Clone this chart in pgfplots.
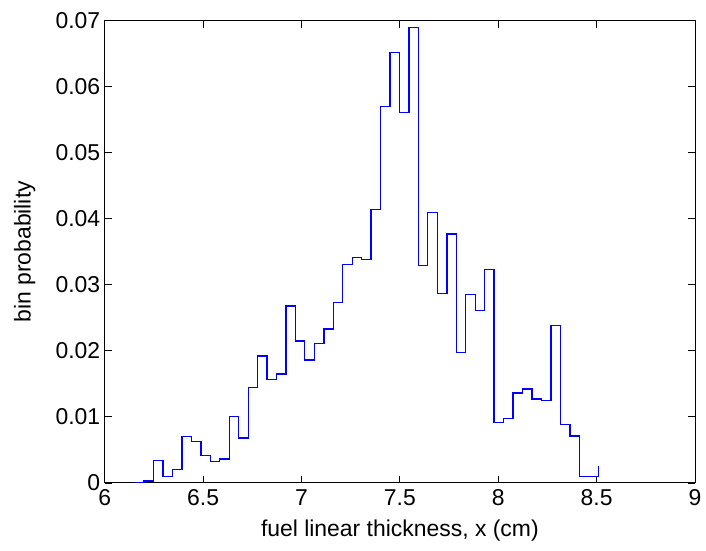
\documentclass[border=0pt]{standalone}
\usepackage{pgfplots}
\pgfplotsset{compat=1.18}
\usepackage{fontspec}
\setmainfont{Liberation Sans}
\begin{document}
\begin{tikzpicture}
\useasboundingbox (-104.7bp,-67.3bp) rectangle (601bp,482.7bp);
\begin{axis}[
  at={(0,0)}, anchor=south west,
  scale only axis,
  width=590bp, height=462bp,
  xmin=6, xmax=9, ymin=0, ymax=0.07,
  scaled y ticks=false, scaled x ticks=false,
  xtick={6,6.5,7,7.5,8,8.5,9},
  ytick={0,0.01,0.02,0.03,0.04,0.05,0.06,0.07},
  xticklabels={6,6.5,7,7.5,8,8.5,9},
  yticklabels={0,0.01,0.02,0.03,0.04,0.05,0.06,0.07},
  tick align=inside,
  major tick length=7bp,
  tick style={black, line width=0.8bp},
  axis line style={black, line width=0.9bp},
  every tick label/.append style={font=\fontsize{23}{27}\selectfont},
  xticklabel style={yshift=-3bp},
  yticklabel style={xshift=-1bp},
  xlabel={fuel linear thickness, x (cm)},
  ylabel={bin probability},
  label style={font=\fontsize{23}{27}\selectfont},
  xlabel style={at={(axis description cs:0.5,0)}, anchor=center, yshift=-48bp},
  ylabel style={at={(axis description cs:0,0.5)}, anchor=center, rotate=0, yshift=80bp},
  clip=false,
]
\addplot[const plot mark left, color=blue, line width=1.3bp, mark=none] table {
x y
6.152 0.0001
6.200 0.0003
6.248 0.0034
6.296 0.0010
6.344 0.0020
6.392 0.0070
6.440 0.0063
6.489 0.0042
6.537 0.0032
6.585 0.0036
6.633 0.0101
6.681 0.0068
6.729 0.0145
6.777 0.0192
6.825 0.0157
6.873 0.0165
6.921 0.0268
6.969 0.0215
7.017 0.0186
7.066 0.0211
7.114 0.0233
7.162 0.0273
7.210 0.0331
7.258 0.0341
7.306 0.0338
7.354 0.0414
7.402 0.0570
7.450 0.0652
7.498 0.0561
7.546 0.0690
7.594 0.0329
7.642 0.0410
7.691 0.0287
7.739 0.0377
7.787 0.0198
7.835 0.0285
7.883 0.0261
7.931 0.0323
7.979 0.0092
8.027 0.0098
8.075 0.0136
8.123 0.0142
8.171 0.0127
8.219 0.0125
8.268 0.0238
8.316 0.0088
8.364 0.0071
8.412 0.0010
8.460 0.0010
8.508 0.0025
};
\end{axis}
\end{tikzpicture}
\end{document}
